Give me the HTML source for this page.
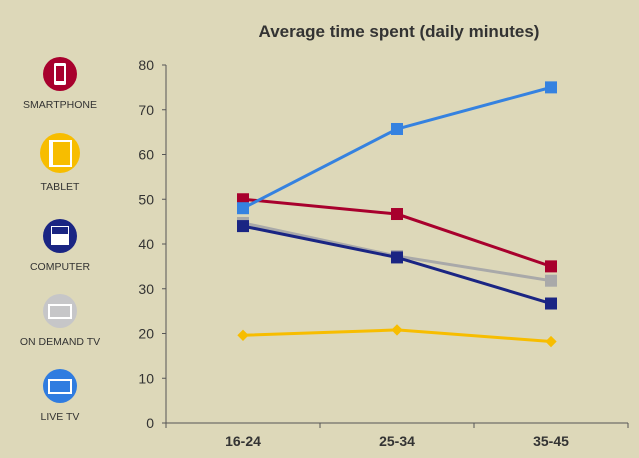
<!DOCTYPE html>
<html><head><meta charset="utf-8"><style>
body{margin:0;background:#ddd8b9;font-family:"Liberation Sans",Arial,sans-serif;}
svg{display:block}
</style></head><body>
<svg id="c" width="639" height="458" viewBox="0 0 639 458" xmlns="http://www.w3.org/2000/svg">
<rect width="639" height="458" fill="#ddd8b9"/>
<text x="399" y="37" text-anchor="middle" font-size="17" font-weight="bold" fill="#333">Average time spent (daily minutes)</text>
<g>
 <g>
  <circle cx="60" cy="74" r="17" fill="#a8002d"/>
  <rect x="54" y="63" width="12" height="22" rx="1.5" fill="#fff"/><rect x="56" y="66" width="8" height="15" fill="#a8002d"/>
  <text x="60" y="108" text-anchor="middle" font-size="10.5" fill="#333">SMARTPHONE</text>
 </g>
 <g>
  <circle cx="60" cy="153" r="20" fill="#f7bd00"/>
  <rect x="49" y="140" width="23" height="27" fill="#fff"/><rect x="53" y="142" width="17" height="23" fill="#f7bd00"/>
  <text x="60" y="190" text-anchor="middle" font-size="10.5" fill="#333">TABLET</text>
 </g>
 <g>
  <circle cx="60" cy="236" r="17" fill="#1a2583"/>
  <rect x="51" y="226" width="18" height="19" fill="#fff"/><rect x="52" y="227" width="16" height="7" fill="#1a2583"/>
  <text x="60" y="270" text-anchor="middle" font-size="10.5" fill="#333">COMPUTER</text>
 </g>
 <g>
  <circle cx="60" cy="311" r="17" fill="#c6c6c8"/>
  <rect x="48" y="304" width="24" height="15" fill="#fff"/><rect x="50" y="306" width="20" height="11" fill="#c6c6c8"/>
  <text x="60" y="345" text-anchor="middle" font-size="10.5" fill="#333">ON DEMAND TV</text>
 </g>
 <g>
  <circle cx="60" cy="386" r="17" fill="#2f7ce0"/>
  <rect x="48" y="379" width="24" height="15" fill="#fff"/><rect x="50" y="381" width="20" height="11" fill="#2f7ce0"/>
  <text x="60" y="420" text-anchor="middle" font-size="10.5" fill="#333">LIVE TV</text>
 </g>
</g>
<g id="axes"></g>
<g id="series"></g>
</svg>
<script>
const categories=["16-24","25-34","35-45"];
const yTicks=[0,10,20,30,40,50,60,70,80];
const liveTv=[48,65.7,75];
const smartphone=[50,46.7,35];
const onDemandTv=[44.7,37.3,31.8];
const computer=[44,37,26.7];
const tablet=[19.6,20.8,18.2];
const NS="http://www.w3.org/2000/svg";
const x0=166,x1=628,y0=423,y1=65,yMax=80;
const yS=v=>y0-(v/yMax)*(y0-y1);
const bw=(x1-x0)/categories.length;
const xS=i=>x0+bw*(i+0.5);
function mk(t,a,p){const e=document.createElementNS(NS,t);for(const k in a)e.setAttribute(k,a[k]);p.appendChild(e);return e;}
const ax=document.getElementById("axes");
const yl=mk("line",{x1:x0,y1:y1,x2:x0,y2:y0,stroke:"#555","stroke-width":1},ax);


const xl=mk("line",{x1:x0-4,y1:y0,x2:x1,y2:y0,stroke:"#555","stroke-width":1},ax);


yTicks.forEach(v=>{
 const y=yS(v);
 mk("line",{x1:x0-4,y1:y,x2:x0,y2:y,stroke:"#555"},ax);
 const t=mk("text",{x:x0-12,y:y+5,"text-anchor":"end","font-size":14,fill:"#333"},ax);
 t.textContent=v;
 
 
});
for(let i=0;i<=categories.length;i++){mk("line",{x1:x0+bw*i,y1:y0,x2:x0+bw*i,y2:y0+5,stroke:"#555"},ax);}
categories.forEach((c,i)=>{
 const t=mk("text",{x:xS(i),y:y0+23,"text-anchor":"middle","font-size":14,"font-weight":"bold",fill:"#333"},ax);
 t.textContent=c;
 
 
});
const sg=document.getElementById("series");
function draw(vals,color,name,diamond){
 const g=mk("g",{},sg);
 
 
 const l=mk("polyline",{points:vals.map((v,i)=>xS(i)+","+yS(v)).join(" "),fill:"none",stroke:color,"stroke-width":3},g);
 
 
 vals.forEach((v,i)=>{
  let m;
  if(diamond){m=mk("rect",{x:xS(i)-4,y:yS(v)-4,width:8,height:8,fill:color,transform:`rotate(45 ${xS(i)} ${yS(v)})`},g);}
  else{m=mk("rect",{x:xS(i)-6,y:yS(v)-6,width:12,height:12,fill:color},g);}
  
  
 });
}
draw(tablet,"#f7bd00","tablet",true);
draw(onDemandTv,"#a9a9a9","on-demand-tv");
draw(computer,"#1a2583","computer");
draw(smartphone,"#a8002d","smartphone");
draw(liveTv,"#3582e0","live-tv");
</script>
</body></html>
